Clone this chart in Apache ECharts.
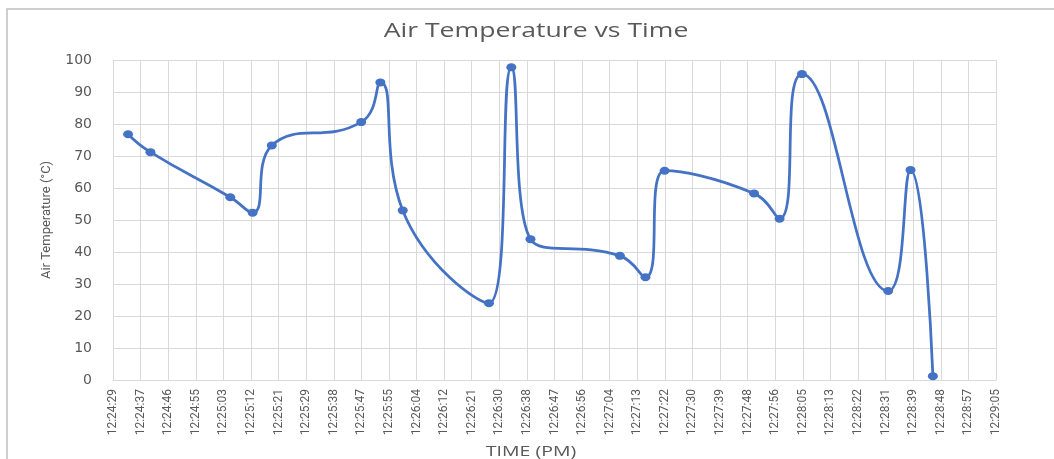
<!DOCTYPE html>
<html><head><meta charset="utf-8">
<script src="https://cdn.jsdelivr.net/npm/echarts@6/dist/echarts.min.js"></script>
<style>html,body{margin:0;padding:0;background:#fff;overflow:hidden}#c{width:1054px;height:459px}</style>
</head><body><div id="c"></div>
<script>
// ---- data ----
const times = ["12:24:34","12:24:41","12:25:06","12:25:13","12:25:19","12:25:47","12:25:53","12:26:00","12:26:27","12:26:34","12:26:40","12:27:08","12:27:16","12:27:22","12:27:50","12:27:58","12:28:05","12:28:32","12:28:39","12:28:46"];
const temps = [76.8,71.2,57.1,52.3,73.3,80.6,93.0,53.0,24.0,97.7,44.0,38.8,32.1,65.4,58.3,50.4,95.6,27.8,65.6,1.2];
const axisStartTime = "12:24:29.28";
const tickStepSec = 8.64;
const tickCount = 32;
const yTicks = [0,10,20,30,40,50,60,70,80,90,100];
const titleText = 'Air Temperature vs Time';
const xName = 'TIME (PM)';
const yName = 'Air Temperature (°C)';

function toSec(s){const p=s.split(':').map(Number);return p[0]*3600+p[1]*60+p[2];}
const start = toSec(axisStartTime);
function fmt(v){
  let t=Math.floor(start+v+1e-6);
  const h=Math.floor(t/3600);t-=h*3600;const m=Math.floor(t/60);const s=t-m*60;
  return h+':'+String(m).padStart(2,'0')+':'+String(s).padStart(2,'0');
}
const seriesData = times.map((t,i)=>[toSec(t)-start, temps[i]]);

const chart = echarts.init(document.getElementById('c'), null, {renderer:'canvas'});
chart.setOption({
  backgroundColor:'#fff',
  animation:false,
  graphic:[
    {type:'rect', shape:{x:7,y:9,width:1060,height:470}, style:{fill:'none', stroke:'#bfbfbf', lineWidth:1.5}, silent:true},
    {type:'text', x:536, y:31, scaleX:1.33, style:{text:titleText, fontFamily:'Open Sans', fontSize:20, fill:'#595959', textAlign:'center', textVerticalAlign:'middle'}, silent:true},
    {type:'text', x:531, y:452, scaleX:1.3, style:{text:xName, fontFamily:'Open Sans', fontSize:15, fill:'#595959', textAlign:'center', textVerticalAlign:'middle'}, silent:true}
  ],
  grid:{left:113, right:58, top:60, bottom:79, containLabel:false},
  xAxis:{type:'value', min:0, max:tickStepSec*tickCount, interval:tickStepSec,
    axisLine:{show:true, lineStyle:{color:'#d9d9d9', width:1}},
    axisTick:{show:false},
    splitLine:{show:true, lineStyle:{color:'#d9d9d9', width:1}},
    axisLabel:{rotate:90, formatter:fmt, fontFamily:'Roboto', fontSize:12, color:'#595959', margin:9, showMaxLabel:true, showMinLabel:true}
  },
  yAxis:{type:'value', min:yTicks[0], max:yTicks[yTicks.length-1], interval:10,
    name:yName, nameLocation:'middle', nameGap:60,
    nameTextStyle:{fontFamily:'Roboto', fontSize:13, color:'#595959'},
    axisLine:{show:false}, axisTick:{show:false},
    splitLine:{show:true, lineStyle:{color:'#d9d9d9', width:1}},
    axisLabel:{fontFamily:'DejaVu Sans', fontSize:14, color:'#595959', margin:21}
  },
  series:[{type:'line', data:seriesData, smooth:0.5,
    lineStyle:{color:'#4472c4', width:2.75},
    itemStyle:{color:'#4472c4'},
    symbol:'circle', symbolSize:[10,8], showAllSymbol:true}]
});
</script></body></html>
